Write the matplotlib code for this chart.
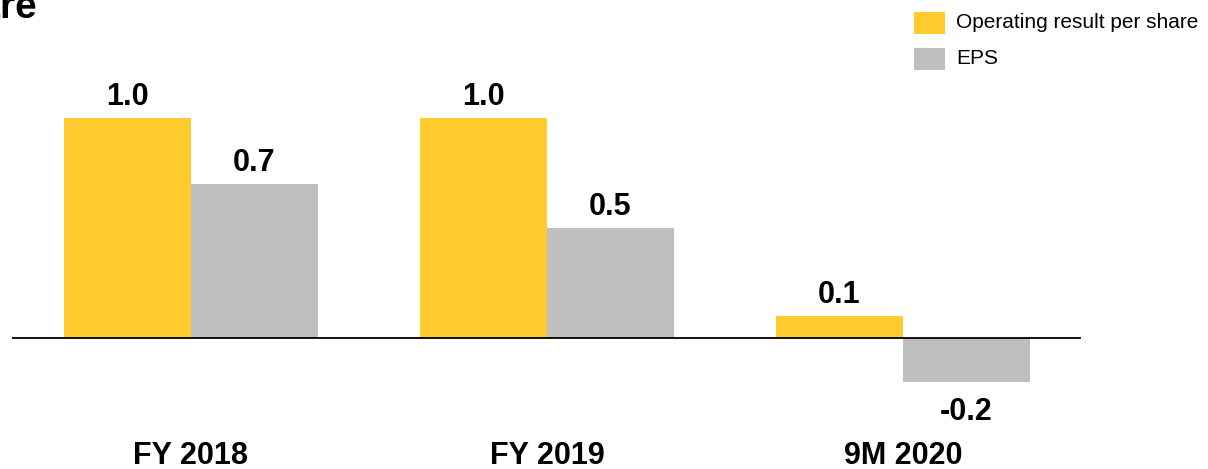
import matplotlib
matplotlib.use("Agg")
import matplotlib.pyplot as plt
from matplotlib.patches import Rectangle
import numpy as np

plt.rcParams['font.family'] = ['Liberation Sans', 'DejaVu Sans']

# Data
periods = ["FY 2018", "FY 2019", "9M 2020"]
op_result = [1.0, 1.0, 0.1]
eps = [0.7, 0.5, -0.2]
series_names = ["Operating result per share", "EPS"]

yellow = "#FFCB2F"
grey = "#BFBFBF"

W, H = 1208, 469
fig = plt.figure(figsize=(W / 100, H / 100), dpi=100)
ax = fig.add_axes([0, 0, 1, 1])

x = np.arange(len(periods))
bw = 0.357
b1 = ax.bar(x - bw / 2, op_result, bw, color=yellow, label=series_names[0])
b2 = ax.bar(x + bw / 2, eps, bw, color=grey, label=series_names[1])

# zero line spanning the plotted groups
ax.plot([-0.501, 2.497], [0, 0], color="black", lw=1.3, zorder=3)

# one category step = 356 px, first group centred at 191 px
ax.set_xlim(-191 / 356, (W - 191) / 356)
ax.set_ylim(-0.595, 1.536)
ax.axis("off")

for bars in (b1, b2):
    for rect in bars:
        v = rect.get_height()
        cx = rect.get_x() + rect.get_width() / 2
        if v >= 0:
            ax.text(cx, v + 0.059, f"{v:.1f}", ha="center", va="baseline",
                    fontsize=22, fontweight="bold")
        else:
            ax.text(cx, v - 0.07, f"{v:.1f}", ha="center", va="top",
                    fontsize=22, fontweight="bold")

for xi, name in zip(x, periods):
    ax.text(xi, -0.537, name, ha="center", va="center",
            fontsize=22, fontweight="bold")

# title cut at the left edge
fig.text(37 / W, 1 - 18 / H, "Result per share", ha="right", va="baseline",
         fontsize=28, fontweight="bold")

# legend
for i, (name, col) in enumerate(zip(series_names, [yellow, grey])):
    top = 12 + i * 36
    fig.add_artist(Rectangle((914 / W, 1 - (top + 22) / H), 31 / W, 22 / H,
                             transform=fig.transFigure, color=col, lw=0))
    fig.text(956 / W, 1 - (top + 11) / H, name, ha="left", va="center",
             fontsize=15)

fig.savefig("out.png", dpi=100)
